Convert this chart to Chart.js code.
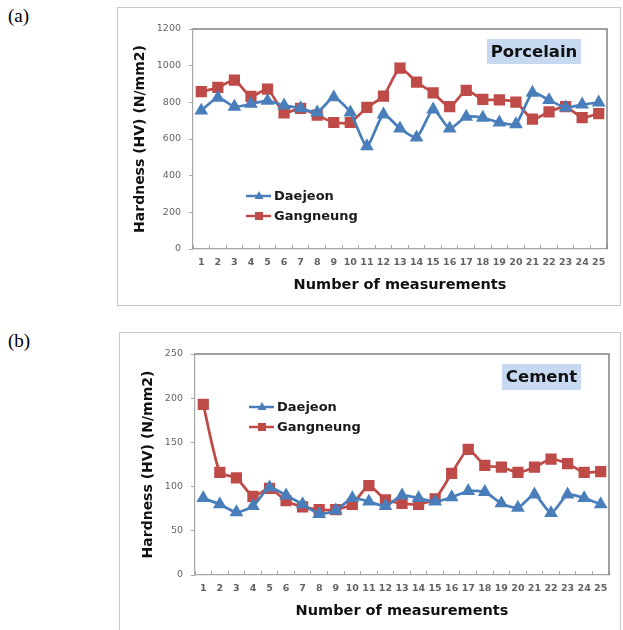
<!DOCTYPE html>
<html>
<head>
<meta charset="utf-8">
<script src="https://cdn.jsdelivr.net/npm/chart.js@4.4.0/dist/chart.umd.min.js"></script>
<style>
  body { margin: 0; background: #fff; overflow: hidden; width: 623px; height: 630px; position: relative; }
  .tag { position: absolute; font-family: "Liberation Serif", serif; font-size: 19px; color: #000; }
  .frame { position: absolute; border: 1px solid #c8c8c8; box-sizing: border-box; }
  .frame canvas { position: absolute; left: 0; top: 0; }
</style>
</head>
<body>
<div class="tag" style="left:8px;top:5px">(a)</div>
<div class="frame" style="left:117px;top:7px;width:504px;height:299px">
  <canvas id="porcelainChart" width="502" height="297"></canvas>
</div>
<div class="tag" style="left:8px;top:330px">(b)</div>
<div class="frame" style="left:119px;top:332px;width:502px;height:320px">
  <canvas id="cementChart" width="500" height="297"></canvas>
</div>
<script>
// values
const measurements = ['1', '2', '3', '4', '5', '6', '7', '8', '9', '10', '11', '12', '13',
  '14', '15', '16', '17', '18', '19', '20', '21', '22', '23', '24', '25'];

const porcelainDaejeon = [755, 825, 776, 792, 808, 783, 768, 745, 827, 745, 561, 734, 657,
  608, 761, 657, 721, 716, 690, 681, 852, 812, 772, 788, 799];
const porcelainGangneung = [858, 881, 921, 832, 872, 743, 767, 730, 690, 690, 772, 834, 987,
  910, 852, 776, 865, 816, 814, 801, 708, 748, 776, 717, 739];

const cementDaejeon = [87, 80, 71, 78, 99, 90, 80, 69, 73, 87, 83, 78, 90,
  87, 83, 88, 95, 94, 81, 76, 91, 70, 91, 87, 80];
const cementGangneung = [193, 116, 110, 89, 98, 84, 77, 74, 74, 80, 101, 85, 81,
  80, 86, 115, 142, 124, 122, 116, 122, 131, 126, 116, 117];

const blue = '#4a7ebb';
const red = '#be4b48';

// top + right border of the plot area
const plotFrame = {
  id: 'plotFrame',
  beforeDatasetsDraw(chart) {
    const { ctx, chartArea: a } = chart;
    ctx.save();
    ctx.strokeStyle = '#808080';
    ctx.lineWidth = 1.5;
    ctx.beginPath();
    ctx.moveTo(a.left, a.top);
    ctx.lineTo(a.right, a.top);
    ctx.lineTo(a.right, a.bottom);
    ctx.stroke();
    ctx.restore();
  }
};

function drawMarker(ctx, style, x, y, color) {
  ctx.fillStyle = color;
  ctx.beginPath();
  if (style === 'triangle') {
    ctx.moveTo(x, y - 5);
    ctx.lineTo(x + 4.5, y + 3);
    ctx.lineTo(x - 4.5, y + 3);
  } else {
    ctx.rect(x - 4, y - 4, 8, 8);
  }
  ctx.closePath();
  ctx.fill();
}

// legend inside the plot + blue sample name box
const insideNotes = {
  id: 'insideNotes',
  afterDraw(chart, args, opts) {
    const ctx = chart.ctx;
    ctx.save();
    chart.data.datasets.forEach((ds, i) => {
      const y = opts.legendY + i * 20;
      ctx.strokeStyle = ds.borderColor;
      ctx.lineWidth = 2.5;
      ctx.beginPath();
      ctx.moveTo(opts.legendX, y);
      ctx.lineTo(opts.legendX + 25, y);
      ctx.stroke();
      drawMarker(ctx, ds.pointStyle, opts.legendX + 13, y, ds.borderColor);
      ctx.fillStyle = '#1a1a1a';
      ctx.font = 'bold 13px "DejaVu Sans"';
      ctx.textBaseline = 'middle';
      ctx.textAlign = 'left';
      ctx.fillText(ds.label, opts.legendX + 28, y + 1);
    });
    const b = opts.box;
    ctx.fillStyle = '#c6d9f0';
    ctx.fillRect(b.x, b.y, b.w, b.h);
    ctx.fillStyle = '#111';
    ctx.font = 'bold 16.5px "DejaVu Sans"';
    ctx.textAlign = 'center';
    ctx.textBaseline = 'middle';
    ctx.fillText(b.text, b.x + b.w / 2, b.y + b.h / 2 + 1);
    ctx.restore();
  }
};

function createHardnessChart(canvasId, daejeon, gangneung, yMax, yStep, layout) {
  const ctx = document.getElementById(canvasId).getContext('2d');
  new Chart(ctx, {
    type: 'line',
    data: {
      labels: measurements,
      datasets: [
        {
          label: 'Daejeon',
          data: daejeon,
          borderColor: blue,
          backgroundColor: blue,
          pointStyle: 'triangle',
          pointRadius: 5.2,
          borderWidth: 2.75,
          tension: 0.2
        },
        {
          label: 'Gangneung',
          data: gangneung,
          borderColor: red,
          backgroundColor: red,
          pointStyle: 'rect',
          pointRadius: 6,
          borderWidth: 2.75,
          tension: 0.2
        }
      ]
    },
    options: {
      responsive: false,
      animation: false,
      devicePixelRatio: 1,
      layout: { padding: { top: 21, right: layout.rightPad, left: 0, bottom: 0 } },
      scales: {
        x: {
          offset: true,
          grid: { offset: true, drawOnChartArea: false, tickLength: -4, color: '#a6a6a6' },
          border: { color: '#a6a6a6', width: 1.2 },
          ticks: {
            padding: 12,
            autoSkip: false,
            maxRotation: 0,
            color: '#636363',
            font: { family: 'DejaVu Sans', size: 9.5, weight: 'bold' }
          },
          title: {
            display: true,
            text: 'Number of measurements',
            color: '#111',
            padding: { top: 0, bottom: layout.xTitlePad },
            font: { family: 'DejaVu Sans', size: 14.5, weight: 'bold' }
          },
          afterFit: (scale) => { scale.height = layout.xHeight; }
        },
        y: {
          min: 0,
          max: yMax,
          grid: { drawOnChartArea: false, tickLength: 4, color: '#a6a6a6' },
          border: { color: '#a6a6a6', width: 1.2 },
          ticks: {
            stepSize: yStep,
            padding: 8,
            color: '#636363',
            font: { family: 'DejaVu Sans', size: 9.5 },
            callback: (value) => String(value)
          },
          title: {
            display: true,
            text: 'Hardness (HV) (N/mm2)',
            color: '#111',
            padding: { top: layout.yTitlePad, bottom: 0 },
            font: { family: 'DejaVu Sans', size: 14, weight: 'bold' }
          },
          afterFit: (scale) => { scale.width = 75; }
        }
      },
      plugins: {
        legend: { display: false },
        tooltip: { enabled: false },
        insideNotes: {
          legendX: layout.legendX,
          legendY: layout.legendY,
          box: layout.box
        }
      }
    },
    plugins: [plotFrame, insideNotes]
  });
}

createHardnessChart('porcelainChart', porcelainDaejeon, porcelainGangneung, 1200, 200, {
  xHeight: 56, xTitlePad: 11, yTitlePad: 13.5, rightPad: 13,
  legendX: 128, legendY: 188,
  box: { text: 'Porcelain', x: 369, y: 31, w: 94, h: 25 }
});

createHardnessChart('cementChart', cementDaejeon, cementGangneung, 250, 50, {
  xHeight: 55, xTitlePad: 10, yTitlePad: 19.5, rightPad: 11,
  legendX: 129, legendY: 74,
  box: { text: 'Cement', x: 382, y: 31, w: 79, h: 26 }
});
</script>
</body>
</html>
